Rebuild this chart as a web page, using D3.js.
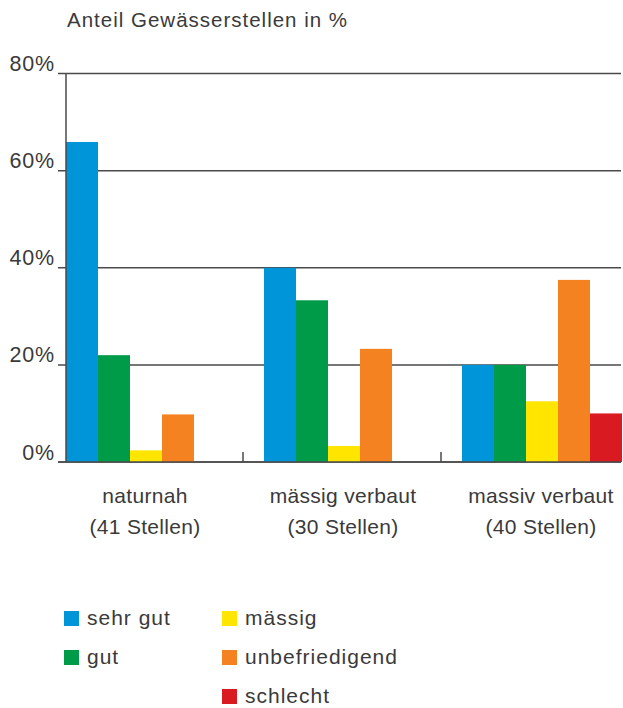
<!DOCTYPE html>
<html><head><meta charset="utf-8">
<script src="https://cdn.jsdelivr.net/npm/d3@7"></script>
<style>body{margin:0;background:#fff}svg{display:block}text{font-family:"Liberation Sans",Arial,sans-serif;fill:#3a3a3a}</style>
</head><body>
<script>
const categories = ["naturnah", "mässig verbaut", "massiv verbaut"];
const categorySub = ["(41 Stellen)", "(30 Stellen)", "(40 Stellen)"];
const seriesNames = ["sehr gut", "gut", "mässig", "unbefriedigend", "schlecht"];
const seriesColors = ["#0094d9", "#009b48", "#ffe500", "#f58220", "#d91a21"];
const sehrGut = [65.9, 40.0, 20.0];
const gut = [22.0, 33.3, 20.0];
const maessig = [2.4, 3.3, 12.5];
const unbefriedigend = [9.8, 23.3, 37.5];
const schlecht = [0, 0, 10.0];
const yTicks = [0, 20, 40, 60, 80];
const yTitle = "Anteil Gewässerstellen in %";

const series = [sehrGut, gut, maessig, unbefriedigend, schlecht];
const W = 623, H = 708;
const svg = d3.select("body").append("svg").attr("width", W).attr("height", H);

const y = d3.scaleLinear().domain([0, 80]).range([462, 73.5]);
const x = d3.scaleBand().domain(categories).range([46, 640]).padding(0);
const xs = d3.scaleBand().domain(seriesNames).range([20, 180]).padding(0);
const axisColor = "#4a4a4a";

// gridlines
svg.append("g").selectAll("line").data(yTicks).join("line")
  .attr("x1", 58).attr("x2", 621)
  .attr("y1", d => y(d)).attr("y2", d => y(d))
  .attr("stroke", axisColor).attr("stroke-width", 1.5);

// y labels
svg.append("g").selectAll("text").data(yTicks).join("text")
  .attr("x", 55).attr("y", d => y(d) - 2.5)
  .attr("text-anchor", "end").attr("font-size", 21.5).attr("letter-spacing", 0.8)
  .text(d => d + "%");

// bars
const groups = svg.append("g").selectAll("g").data(categories).join("g")
  .attr("transform", c => `translate(${x(c)},0)`);
groups.selectAll("rect").data((c, i) => seriesNames.map((s, j) => ({s, v: series[j][i], color: seriesColors[j]})))
  .join("rect")
  .attr("x", d => xs(d.s)).attr("width", xs.bandwidth())
  .attr("y", d => y(d.v)).attr("height", d => y(0) - y(d.v))
  .attr("fill", d => d.color);

// y axis line
svg.append("line").attr("x1", 66).attr("x2", 66).attr("y1", y(80)).attr("y2", y(0))
  .attr("stroke", axisColor).attr("stroke-width", 1.5);
// baseline
svg.append("line").attr("x1", 58).attr("x2", 621).attr("y1", y(0)).attr("y2", y(0))
  .attr("stroke", axisColor).attr("stroke-width", 1.5);
// group separators
svg.append("g").selectAll("line").data(categories.slice(1)).join("line")
  .attr("x1", c => x(c) - 1).attr("x2", c => x(c) - 1)
  .attr("y1", y(0)).attr("y2", y(0) - 10)
  .attr("stroke", axisColor).attr("stroke-width", 1.5);

// category labels
const cl = svg.append("g").selectAll("g").data(categories).join("g");
cl.append("text").attr("x", c => x(c) + x.bandwidth() / 2).attr("y", 503)
  .attr("text-anchor", "middle").attr("font-size", 21).attr("letter-spacing", 0.3).text(c => c);
cl.append("text").attr("x", c => x(c) + x.bandwidth() / 2).attr("y", 534)
  .attr("text-anchor", "middle").attr("font-size", 21).attr("letter-spacing", 0.3).text((c, i) => categorySub[i]);

// title
svg.append("text").attr("x", 67).attr("y", 26.5).attr("font-size", 20.5).attr("letter-spacing", 1).text(yTitle);

// legend
const legendPos = [[64, 625], [64, 664], [222, 625], [222, 664], [222, 703]];
const lg = svg.append("g").selectAll("g").data(seriesNames).join("g")
  .attr("transform", (d, i) => `translate(${legendPos[i][0]},${legendPos[i][1]})`);
lg.append("rect").attr("x", 0).attr("y", -14).attr("width", 15).attr("height", 15)
  .attr("fill", (d, i) => seriesColors[i]);
lg.append("text").attr("x", 23).attr("y", 0).attr("font-size", 21).attr("letter-spacing", 1).text(d => d);
</script>
</body></html>
